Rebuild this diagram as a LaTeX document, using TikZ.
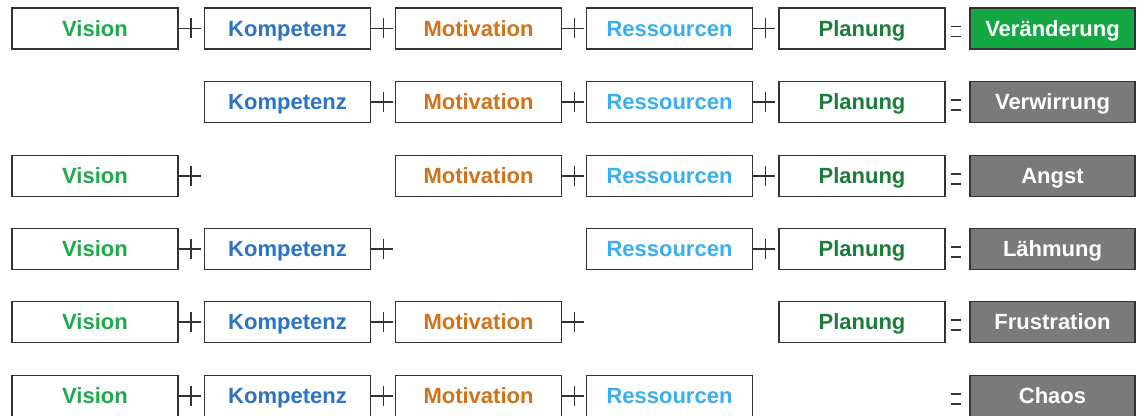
\documentclass[tikz,border=0pt]{standalone}
\usepackage{fontspec}
\setmainfont{Liberation Sans}
\usetikzlibrary{positioning}
\definecolor{visgreen}{HTML}{1DAA4B}
\definecolor{kompblue}{HTML}{2A73C5}
\definecolor{motorange}{HTML}{D2731A}
\definecolor{ressblue}{HTML}{3AAFEF}
\definecolor{plangreen}{HTML}{1A7E38}
\definecolor{okgreen}{HTML}{14A845}
\definecolor{badgray}{HTML}{7A7A7A}
\definecolor{boxline}{HTML}{333333}
\tikzset{term/.style = {draw=boxline, line width=0.9pt, fill=white,
    minimum width=83pt, minimum height=20.5pt, inner sep=0pt,
    text height=9.5pt, text depth=1.6pt,
    font=\fontsize{11}{13}\selectfont\bfseries}}
\tikzset{result/.style = {term, minimum width=82.5pt, text=white}}
\tikzset{sign/.style = {draw=boxline, line width=0.8pt}}
\newcommand{\plusnach}[1]{\draw[sign] (#1.east) -- ++(22,0) (#1.east) ++(12,-10) -- ++(0,20);}
\newcommand{\gleichvor}[1]{\draw[sign] (#1.west) ++(-18,-2) -- ++(10,0) (#1.west) ++(-18,8) -- ++(10,0);}
\begin{document}
\begin{tikzpicture}[x=0.5pt,y=-0.5pt]
  \useasboundingbox (0,0) rectangle (1137,416);

  % Veraenderung
  \node[term, text=visgreen] (v1) at (95,28.5) {Vision};
  \node[term, text=kompblue] (k1) at (287.5,28.5) {Kompetenz};
  \node[term, text=motorange] (m1) at (478.5,28.5) {Motivation};
  \node[term, text=ressblue] (r1) at (669.5,28.5) {Ressourcen};
  \node[term, text=plangreen] (p1) at (862,28.5) {Planung};
  \node[result, fill=okgreen] (e1) at (1052.5,28.5) {Veränderung};
  \plusnach{v1} \plusnach{k1} \plusnach{m1} \plusnach{r1}
  \gleichvor{e1}

  % Verwirrung
  \node[term, text=kompblue] (k2) at (287.5,102) {Kompetenz};
  \node[term, text=motorange] (m2) at (478.5,102) {Motivation};
  \node[term, text=ressblue] (r2) at (669.5,102) {Ressourcen};
  \node[term, text=plangreen] (p2) at (862,102) {Planung};
  \node[result, fill=badgray] (e2) at (1052.5,102) {Verwirrung};
  \plusnach{k2} \plusnach{m2} \plusnach{r2}
  \gleichvor{e2}

  % Angst
  \node[term, text=visgreen] (v3) at (95,176) {Vision};
  \node[term, text=motorange] (m3) at (478.5,176) {Motivation};
  \node[term, text=ressblue] (r3) at (669.5,176) {Ressourcen};
  \node[term, text=plangreen] (p3) at (862,176) {Planung};
  \node[result, fill=badgray] (e3) at (1052.5,176) {Angst};
  \plusnach{v3} \plusnach{m3} \plusnach{r3}
  \gleichvor{e3}

  % Laehmung
  \node[term, text=visgreen] (v4) at (95,249) {Vision};
  \node[term, text=kompblue] (k4) at (287.5,249) {Kompetenz};
  \node[term, text=ressblue] (r4) at (669.5,249) {Ressourcen};
  \node[term, text=plangreen] (p4) at (862,249) {Planung};
  \node[result, fill=badgray] (e4) at (1052.5,249) {Lähmung};
  \plusnach{v4} \plusnach{k4} \plusnach{r4}
  \gleichvor{e4}

  % Frustration
  \node[term, text=visgreen] (v5) at (95,322) {Vision};
  \node[term, text=kompblue] (k5) at (287.5,322) {Kompetenz};
  \node[term, text=motorange] (m5) at (478.5,322) {Motivation};
  \node[term, text=plangreen] (p5) at (862,322) {Planung};
  \node[result, fill=badgray] (e5) at (1052.5,322) {Frustration};
  \plusnach{v5} \plusnach{k5} \plusnach{m5}
  \gleichvor{e5}

  % Chaos
  \node[term, text=visgreen] (v6) at (95,396) {Vision};
  \node[term, text=kompblue] (k6) at (287.5,396) {Kompetenz};
  \node[term, text=motorange] (m6) at (478.5,396) {Motivation};
  \node[term, text=ressblue] (r6) at (669.5,396) {Ressourcen};
  \node[result, fill=badgray] (e6) at (1052.5,396) {Chaos};
  \plusnach{v6} \plusnach{k6} \plusnach{m6}
  \gleichvor{e6}
\end{tikzpicture}
\end{document}
